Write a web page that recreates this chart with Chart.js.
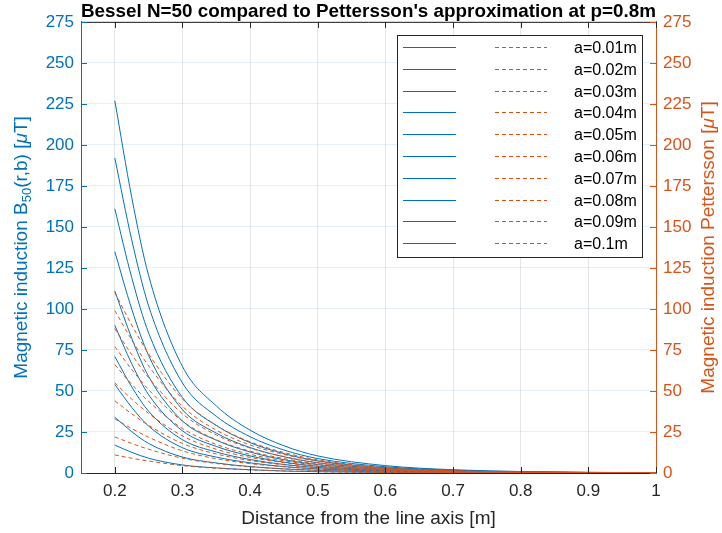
<!DOCTYPE html>
<html>
<head>
<meta charset="utf-8">
<script src="https://cdn.jsdelivr.net/npm/chart.js@4"></script>
<style>
  html, body { margin: 0; padding: 0; background: #fff; }
  #wrap { width: 722px; height: 533px; }
</style>
</head>
<body>
<div id="wrap"><canvas id="besselChart" width="722" height="533"></canvas></div>
<script>
// x positions (distance from the line axis, m)
const distances = [0.2, 0.225, 0.25, 0.3, 0.35, 0.4, 0.45, 0.5, 0.6, 0.7, 0.8, 0.9, 1.0];
const aLabels = ['a=0.01m', 'a=0.02m', 'a=0.03m', 'a=0.04m', 'a=0.05m',
                 'a=0.06m', 'a=0.07m', 'a=0.08m', 'a=0.09m', 'a=0.1m'];
const xTicks = [0.2, 0.3, 0.4, 0.5, 0.6, 0.7, 0.8, 0.9, 1];

// Bessel N=50 curves (uT), estimated
const bessel001 = [17, 12.6, 9.0, 4.9, 3.1, 2.0, 1.2, 0.8, 0.34, 0.15, 0.07, 0.03, 0.01];
const bessel002 = [34, 25.2, 18.0, 9.7, 6.1, 3.9, 2.5, 1.6, 0.68, 0.3, 0.14, 0.06, 0.02];
const bessel003 = [54, 40.0, 28.6, 15.4, 9.7, 6.2, 3.9, 2.5, 1.1, 0.48, 0.22, 0.1, 0.04];
const bessel004 = [71, 52.5, 37.6, 20.3, 12.8, 8.2, 5.2, 3.3, 1.4, 0.62, 0.28, 0.13, 0.05];
const bessel005 = [90, 66.6, 47.7, 25.7, 16.2, 10.4, 6.6, 4.1, 1.8, 0.79, 0.36, 0.16, 0.06];
const bessel006 = [111, 82.1, 58.8, 31.7, 20.0, 12.8, 8.1, 5.1, 2.2, 0.98, 0.44, 0.2, 0.08];
const bessel007 = [135, 99.9, 71.6, 38.6, 24.3, 15.5, 9.9, 6.2, 2.7, 1.19, 0.54, 0.24, 0.09];
const bessel008 = [161, 119.1, 85.3, 46.0, 29.0, 18.5, 11.8, 7.4, 3.2, 1.42, 0.64, 0.29, 0.11];
const bessel009 = [192, 142.1, 101.8, 54.9, 34.6, 22.1, 14.0, 8.8, 3.8, 1.69, 0.77, 0.35, 0.13];
const bessel010 = [227, 168.0, 120.3, 64.9, 40.9, 26.1, 16.6, 10.4, 4.5, 2.0, 0.91, 0.41, 0.16];

// Pettersson approximation (uT), estimated
const petter001 = [11, 9.0, 7.3, 4.5, 2.9, 1.9, 1.25, 0.8, 0.32, 0.14, 0.06, 0.03, 0.01];
const petter002 = [22, 18.0, 14.5, 9.0, 5.8, 3.8, 2.5, 1.6, 0.64, 0.28, 0.12, 0.06, 0.02];
const petter003 = [33, 27.1, 21.8, 13.5, 8.7, 5.7, 3.8, 2.4, 0.96, 0.42, 0.18, 0.09, 0.03];
const petter004 = [44, 36.1, 29.0, 18.0, 11.6, 7.6, 5.0, 3.2, 1.28, 0.56, 0.24, 0.12, 0.04];
const petter005 = [55, 45.1, 36.3, 22.6, 14.5, 9.5, 6.3, 4.0, 1.6, 0.7, 0.3, 0.15, 0.06];
const petter006 = [66, 54.1, 43.6, 27.1, 17.4, 11.4, 7.5, 4.8, 1.9, 0.84, 0.36, 0.18, 0.07];
const petter007 = [77, 63.1, 50.8, 31.6, 20.3, 13.3, 8.8, 5.6, 2.2, 0.98, 0.42, 0.21, 0.08];
const petter008 = [88, 72.2, 58.1, 36.1, 23.2, 15.2, 10.0, 6.4, 2.6, 1.12, 0.48, 0.24, 0.09];
const petter009 = [99, 81.2, 65.3, 40.6, 26.1, 17.1, 11.3, 7.2, 2.9, 1.26, 0.54, 0.27, 0.1];
const petter010 = [110, 90.2, 72.6, 45.1, 29.0, 19.0, 12.5, 8.0, 3.2, 1.4, 0.6, 0.3, 0.11];

const besselSeries = [bessel001, bessel002, bessel003, bessel004, bessel005,
                      bessel006, bessel007, bessel008, bessel009, bessel010];
const petterSeries = [petter001, petter002, petter003, petter004, petter005,
                      petter006, petter007, petter008, petter009, petter010];

const BLUE = '#0072BD';
const ORANGE = '#D95319';
const AXIS = '#262626';
const FONT = "'Liberation Sans', Arial, sans-serif";

const toPoints = arr => arr.map((v, i) => ({ x: distances[i], y: v }));

const datasets = [];
besselSeries.forEach((s, i) => {
  datasets.push({
    label: aLabels[i] + ' Bessel',
    data: toPoints(s),
    borderColor: BLUE,
    borderWidth: 1,
    pointRadius: 0,
    cubicInterpolationMode: 'monotone',
    yAxisID: 'y',
    order: 2
  });
});
petterSeries.forEach((s, i) => {
  datasets.push({
    label: aLabels[i] + ' Pettersson',
    data: toPoints(s),
    borderColor: ORANGE,
    borderWidth: 1,
    borderDash: [4, 3],
    pointRadius: 0,
    cubicInterpolationMode: 'monotone',
    yAxisID: 'y1',
    order: 1
  });
});

// draw a rotated (bottom to top) title made of text pieces
function drawVerticalTitle(c, cx, cy, pieces, color) {
  c.save();
  c.translate(cx, cy);
  c.rotate(-Math.PI / 2);
  c.fillStyle = color;
  c.textBaseline = 'middle';
  c.textAlign = 'left';
  let total = 0;
  pieces.forEach(p => { c.font = p.font; total += c.measureText(p.text).width; });
  let x = -total / 2;
  pieces.forEach(p => {
    c.font = p.font;
    c.fillText(p.text, x, p.dy || 0);
    x += c.measureText(p.text).width;
  });
  c.restore();
}

// MATLAB style box: top border, inward ticks, titles and the legend box
const matlabBox = {
  id: 'matlabBox',
  afterDraw(chart) {
    const c = chart.ctx;
    const a = chart.chartArea;
    const xs = chart.scales.x, yl = chart.scales.y, yr = chart.scales.y1;
    c.save();
    c.lineWidth = 1;
    // top border
    c.strokeStyle = AXIS;
    c.beginPath();
    c.moveTo(a.left, a.top + 0.5);
    c.lineTo(a.right, a.top + 0.5);
    c.stroke();
    // x ticks (inward), bottom and top
    xTicks.forEach(v => {
      const px = Math.round(xs.getPixelForValue(v)) + 0.5;
      c.beginPath();
      c.moveTo(px, a.bottom); c.lineTo(px, a.bottom - 6);
      c.moveTo(px, a.top); c.lineTo(px, a.top + 6);
      c.stroke();
    });
    // y ticks
    for (let v = 0; v <= 275; v += 25) {
      const py = Math.round(yl.getPixelForValue(v)) + 0.5;
      c.strokeStyle = BLUE;
      c.beginPath(); c.moveTo(a.left, py); c.lineTo(a.left + 6, py); c.stroke();
      c.strokeStyle = ORANGE;
      c.beginPath(); c.moveTo(a.right, py); c.lineTo(a.right - 6, py); c.stroke();
    }

    // y axis titles
    const cy = (a.top + a.bottom) / 2;
    const f = '19px ' + FONT;
    drawVerticalTitle(c, 22, cy, [
      { text: 'Magnetic induction B', font: f },
      { text: '50', font: '13px ' + FONT, dy: 5 },
      { text: '(r,b) [', font: f },
      { text: '\u03BC', font: 'italic ' + f },
      { text: 'T]', font: f }
    ], BLUE);
    drawVerticalTitle(c, 709, cy, [
      { text: 'Magnetic induction Pettersson [', font: f },
      { text: '\u03BC', font: 'italic ' + f },
      { text: 'T]', font: f }
    ], ORANGE);

    // legend
    const lx = 397, ly = 35, lw = 245, lh = 222;
    c.fillStyle = '#fff';
    c.fillRect(lx, ly, lw, lh);
    c.strokeStyle = '#262626';
    c.strokeRect(lx + 0.5, ly + 0.5, lw, lh);
    c.font = '16px ' + FONT;
    c.textBaseline = 'middle';
    c.textAlign = 'left';
    aLabels.forEach((lab, i) => {
      const y = Math.round(ly + 12 + i * 21.8) + 0.5;
      c.setLineDash([]);
      c.strokeStyle = BLUE;
      c.beginPath(); c.moveTo(lx + 6, y); c.lineTo(lx + 59, y); c.stroke();
      c.setLineDash([4, 3]);
      c.strokeStyle = ORANGE;
      c.beginPath(); c.moveTo(lx + 98, y); c.lineTo(lx + 150, y); c.stroke();
      c.setLineDash([]);
      c.fillStyle = '#000';
      c.fillText(lab, lx + 177, y + 1);
    });
    c.restore();
  }
};

const ctx = document.getElementById('besselChart').getContext('2d');
new Chart(ctx, {
  type: 'line',
  data: { datasets },
  options: {
    responsive: false,
    animation: false,
    layout: { padding: { top: 1, right: 0, bottom: 0, left: 0 } },
    plugins: {
      legend: { display: false },
      tooltip: { enabled: false },
      title: {
        display: true,
        text: "Bessel N=50 compared to Pettersson's approximation at p=0.8m",
        color: '#000',
        font: { family: FONT, size: 19, weight: 'bold', lineHeight: 1.1 },
        padding: { top: 0, bottom: 0 },
        fullSize: false
      }
    },
    scales: {
      x: {
        type: 'linear',
        min: 0.15,
        max: 1,
        afterBuildTicks: s => { s.ticks = xTicks.map(v => ({ value: v })); },
        afterFit: s => { s.height = 60; },
        ticks: {
          color: AXIS,
          font: { family: FONT, size: 17 },
          padding: 8,
          maxRotation: 0,
          callback: v => String(Math.round(v * 10) / 10)
        },
        grid: { color: 'rgba(38,38,38,0.12)', drawTicks: false },
        border: { color: AXIS, width: 1 },
        title: {
          display: true,
          text: 'Distance from the line axis [m]',
          color: AXIS,
          font: { family: FONT, size: 19 },
          padding: { top: 0, bottom: 3 }
        }
      },
      y: {
        type: 'linear',
        position: 'left',
        min: 0,
        max: 275,
        afterFit: s => { s.width = 81; },
        ticks: {
          stepSize: 25,
          color: BLUE,
          font: { family: FONT, size: 17 },
          padding: 7
        },
        grid: { color: 'rgba(0,114,189,0.11)', drawTicks: false },
        border: { color: BLUE, width: 1 }
      },
      y1: {
        type: 'linear',
        position: 'right',
        min: 0,
        max: 275,
        afterFit: s => { s.width = 66; },
        ticks: {
          stepSize: 25,
          color: ORANGE,
          font: { family: FONT, size: 17 },
          padding: 7
        },
        grid: { display: false, drawTicks: false },
        border: { color: ORANGE, width: 1 }
      }
    }
  },
  plugins: [matlabBox]
});
</script>
</body>
</html>
